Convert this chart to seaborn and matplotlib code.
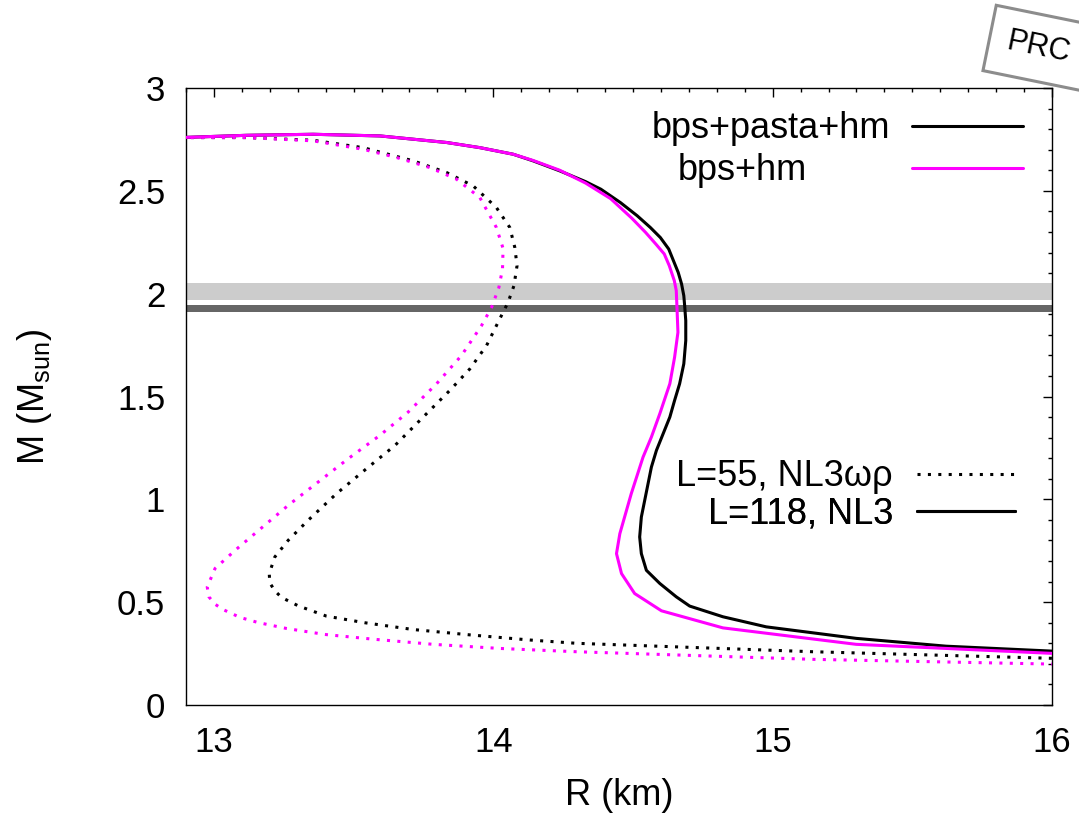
import numpy as np
import pandas as pd
import matplotlib
matplotlib.use("Agg")
import matplotlib.pyplot as plt
from matplotlib.lines import Line2D
from matplotlib.ticker import MultipleLocator
import seaborn as sns

# ---------------- data ----------------
# NL3 (L=118), bps+pasta+hm  (black solid)
r_nl3_pasta = [12.88, 13.117, 13.355, 13.594, 13.833, 13.952, 14.071, 14.142, 14.238, 14.330,
               14.385, 14.455, 14.515, 14.562, 14.598, 14.628, 14.645, 14.662, 14.674, 14.682,
               14.685, 14.689, 14.689, 14.682, 14.667, 14.649, 14.632, 14.608, 14.584, 14.566,
               14.554, 14.542, 14.530, 14.524, 14.530, 14.548, 14.596, 14.655, 14.703, 14.822,
               14.977, 15.299, 15.621, 16.0]
m_nl3_pasta = [2.759, 2.770, 2.775, 2.767, 2.735, 2.710, 2.678, 2.646, 2.597, 2.545,
               2.508, 2.443, 2.379, 2.322, 2.273, 2.217, 2.160, 2.103, 2.047, 1.990,
               1.942, 1.869, 1.772, 1.659, 1.562, 1.481, 1.400, 1.319, 1.238, 1.157,
               1.076, 0.995, 0.914, 0.817, 0.736, 0.655, 0.591, 0.526, 0.481, 0.429,
               0.380, 0.324, 0.286, 0.262]

# NL3 (L=118), bps+hm  (magenta solid)
r_nl3_bps = [12.88, 13.117, 13.355, 13.594, 13.833, 13.952, 14.071, 14.142, 14.238, 14.330,
             14.420, 14.495, 14.545, 14.582, 14.612, 14.630, 14.648, 14.655, 14.658, 14.661,
             14.649, 14.632, 14.596, 14.566, 14.536, 14.494, 14.453, 14.441, 14.459, 14.506,
             14.602, 14.822, 15.299, 15.621, 16.0]
m_nl3_bps = [2.759, 2.770, 2.775, 2.767, 2.735, 2.710, 2.678, 2.648, 2.600, 2.538,
             2.462, 2.368, 2.298, 2.241, 2.193, 2.136, 2.063, 2.015, 1.917, 1.812,
             1.691, 1.562, 1.416, 1.303, 1.205, 1.028, 0.833, 0.736, 0.639, 0.542,
             0.458, 0.375, 0.295, 0.275, 0.251]

# NL3wr (L=55), bps+pasta+hm  (black dotted)
r_nl3wr_pasta = [12.88, 13.117, 13.355, 13.534, 13.713, 13.833, 13.928, 14.011, 14.059, 14.077,
                 14.085, 14.074, 14.053, 14.023, 13.976, 13.916, 13.844, 13.749, 13.648, 13.546,
                 13.439, 13.337, 13.266, 13.218, 13.198, 13.200, 13.218, 13.242, 13.302, 13.403,
                 13.540, 13.713, 13.916, 14.131, 14.298, 15.144, 16.0]
m_nl3wr_pasta = [2.759, 2.759, 2.746, 2.710, 2.646, 2.589, 2.524, 2.419, 2.322, 2.225,
                 2.136, 2.039, 1.958, 1.877, 1.748, 1.634, 1.529, 1.400, 1.262, 1.149,
                 1.028, 0.898, 0.801, 0.720, 0.639, 0.594, 0.555, 0.523, 0.482, 0.432,
                 0.400, 0.367, 0.341, 0.316, 0.300, 0.259, 0.227]

# NL3wr (L=55), bps+hm  (magenta dotted)
r_nl3wr_bps = [12.88, 13.117, 13.355, 13.534, 13.654, 13.773, 13.868, 13.952, 14.011, 14.035,
               14.033, 14.020, 13.994, 13.958, 13.886, 13.797, 13.695, 13.594, 13.481, 13.373,
               13.266, 13.153, 13.080, 13.004, 12.976, 12.982, 13.004, 13.033, 13.093, 13.158,
               13.260, 13.397, 13.570, 13.785, 14.023, 14.298, 15.144, 16.0]
m_nl3wr_bps = [2.759, 2.759, 2.743, 2.702, 2.662, 2.613, 2.557, 2.467, 2.322, 2.220,
               2.120, 2.030, 1.934, 1.845, 1.699, 1.562, 1.424, 1.311, 1.198, 1.084,
               0.971, 0.841, 0.757, 0.664, 0.574, 0.526, 0.490, 0.464, 0.426, 0.401,
               0.372, 0.343, 0.320, 0.295, 0.275, 0.259, 0.222, 0.199]

# observational mass bands
band_light = [1.97, 2.05]
band_dark = [1.911, 1.945]

legend_eos = ["bps+pasta+hm", "bps+hm"]
legend_model = ["L=55, NL3ωρ", "L=118, NL3"]

x_ticks = [13, 14, 15, 16]
y_ticks = [0, 0.5, 1, 1.5, 2, 2.5, 3]
y_ticklabels = ["0", "0.5", "1", "1.5", "2", "2.5", "3"]

# ---------------- style ----------------
sns.set_style("white")
plt.rcParams["font.family"] = ["Liberation Sans", "DejaVu Sans"]
plt.rcParams["mathtext.fontset"] = "custom"
plt.rcParams["mathtext.rm"] = "Liberation Sans"
plt.rcParams["mathtext.it"] = "Liberation Sans:italic"
for k in ["text.color", "axes.labelcolor", "xtick.color", "ytick.color", "axes.edgecolor"]:
    plt.rcParams[k] = "black"

W, H = 1079, 815
fig = plt.figure(figsize=(W / 100, H / 100), dpi=100)
ax = fig.add_axes([186 / W, 1 - 705 / H, (1052 - 186) / W, (705 - 88) / H])

FS_TICK = 25
FS_LEG = 26
FS_LAB = 26
LW = 2.2
DOT = (0, (1.0, 2.4))
MAG = "#ff00ff"

ax.axhspan(band_light[0], band_light[1], color="#cccccc", lw=0, zorder=1)
ax.axhspan(band_dark[0], band_dark[1], color="#666666", lw=0, zorder=1)

sns.lineplot(x=r_nl3_pasta, y=m_nl3_pasta, sort=False, estimator=None, color="black",
             lw=LW, ax=ax, zorder=3, legend=False)
sns.lineplot(x=r_nl3_bps, y=m_nl3_bps, sort=False, estimator=None, color=MAG,
             lw=LW, ax=ax, zorder=4, legend=False)
sns.lineplot(x=r_nl3wr_pasta, y=m_nl3wr_pasta, sort=False, estimator=None, color="black",
             lw=LW, linestyle=DOT, ax=ax, zorder=3, legend=False)
sns.lineplot(x=r_nl3wr_bps, y=m_nl3wr_bps, sort=False, estimator=None, color=MAG,
             lw=LW, linestyle=DOT, ax=ax, zorder=4, legend=False)

ax.set_xlim(12.9, 16.0)
ax.set_ylim(0, 3)
ax.set_xticks(x_ticks)
ax.set_yticks(y_ticks)
ax.set_xticklabels([str(v) for v in x_ticks])
ax.set_yticklabels(y_ticklabels)
ax.xaxis.set_minor_locator(MultipleLocator(0.1))
ax.yaxis.set_minor_locator(MultipleLocator(0.1))
ax.tick_params(which="both", direction="in", top=True, right=True, colors="black",
               width=1.0)
ax.tick_params(which="major", length=6.5, labelsize=FS_TICK, pad=15)
ax.tick_params(which="minor", length=3.2)
for s in ax.spines.values():
    s.set_color("black")
    s.set_linewidth(1.0)

ax.set_xlabel("R (km)", fontsize=FS_LAB)
ax.set_ylabel(r"M (M$_{\mathrm{sun}}$)", fontsize=FS_LAB)
ax.xaxis.set_label_coords(0.5, -0.118)
ax.yaxis.set_label_coords(-0.153, 0.5)

px_per_fs = FS_LEG * 100 / 72


def add_key(handle, label, x_px, y_px, hl_px, gap_px):
    leg = ax.legend([handle], [label], loc="center right",
                    bbox_to_anchor=(x_px / W, 1 - y_px / H), bbox_transform=fig.transFigure,
                    frameon=False, markerfirst=False, handlelength=hl_px / px_per_fs,
                    handletextpad=gap_px / px_per_fs, borderpad=0, borderaxespad=0,
                    fontsize=FS_LEG)
    ax.add_artist(leg)


add_key(Line2D([], [], color="black", lw=LW), legend_eos[0], 1023, 129, 111, 22)
add_key(Line2D([], [], color=MAG, lw=LW), legend_eos[1], 1023, 171, 111, 105)
add_key(Line2D([], [], color="black", lw=LW, linestyle=DOT), legend_model[0], 1015, 477, 98, 24)
add_key(Line2D([], [], color="black", lw=LW), legend_model[1], 1015, 514, 98, 24)

fig.text(1039 / W, 1 - 48 / H, "PRC", rotation=-11.5, rotation_mode="anchor",
         ha="center", va="center", fontsize=22, color="black",
         bbox=dict(boxstyle="square,pad=0.6", fc="white", ec="#8c8c8c", lw=2.2))

fig.savefig("out.png", dpi=100)
